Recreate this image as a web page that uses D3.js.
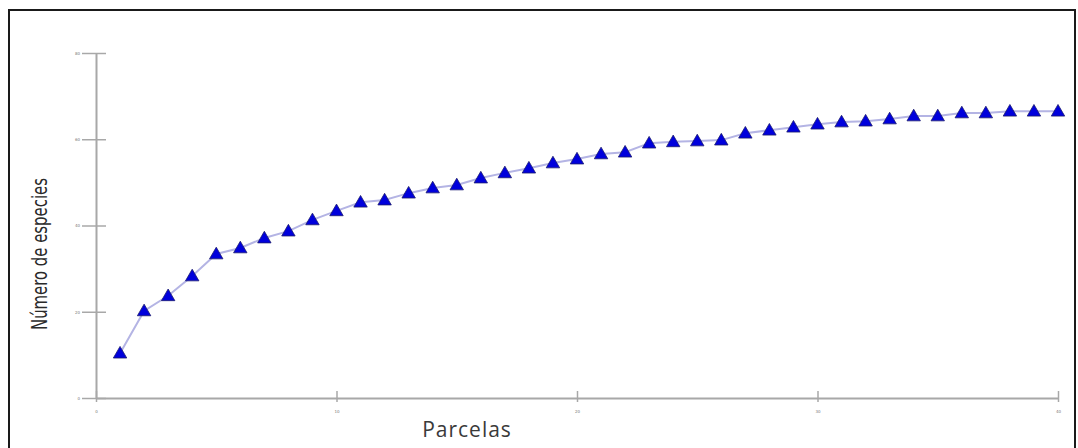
<!DOCTYPE html>
<html>
<head>
<meta charset="utf-8">
<script src="https://cdn.jsdelivr.net/npm/d3@7"></script>
<style>
body { margin: 0; background: #fff; }
</style>
</head>
<body>
<script>
// parcelas 1..40, número acumulado de especies
var parcelas = d3.range(1, 41);
var especies = [10.4, 20.2, 23.7, 28.3, 33.4, 34.8, 37.1, 38.7, 41.3, 43.4,
	45.4, 45.9, 47.5, 48.7, 49.4, 51.0, 52.2, 53.3, 54.5, 55.4,
	56.6, 57.0, 59.1, 59.4, 59.6, 59.8, 61.4, 62.1, 62.8, 63.5,
	64.0, 64.2, 64.7, 65.4, 65.4, 66.1, 66.1, 66.5, 66.5, 66.5];
var xTicks = [0, 10, 20, 30, 40];
var yTicks = [0, 20, 40, 60, 80];

var W = 1078, H = 448;
var svg = d3.select("body")
	.append("svg")
	.attr("width", W)
	.attr("height", H);

// marco exterior
svg.append("rect")
	.attr("x", 9).attr("y", 10)
	.attr("width", 1066).attr("height", 450)
	.attr("fill", "none")
	.attr("stroke", "#1a1a1a")
	.attr("stroke-width", 2);

var x = d3.scaleLinear().domain([0, 40]).range([96, 1058]);
var y = d3.scaleLinear().domain([0, 80]).range([398, 53]);

var gx = svg.append("g")
	.attr("transform", "translate(0,398)")
	.call(d3.axisBottom(x).tickValues(xTicks).tickSize(6).tickSizeOuter(0).tickPadding(6));
gx.selectAll(".tick line").attr("y1", -7).attr("y2", 4);

var gy = svg.append("g")
	.attr("transform", "translate(96,0)")
	.call(d3.axisLeft(y).tickValues(yTicks).tickSize(10).tickSizeOuter(0).tickPadding(6));
gy.selectAll(".tick line").attr("x2", 10).attr("x1", -14);

svg.selectAll(".domain").attr("stroke", "#a8a8a8").attr("stroke-width", 2);
svg.selectAll(".tick line").attr("stroke", "#a8a8a8").attr("stroke-width", 1.5);
svg.selectAll(".tick text")
	.attr("font-size", 4)
	.attr("fill", "#777")
	.attr("font-family", "DejaVu Sans");

var line = d3.line()
	.x(function(d, i) { return x(parcelas[i]); })
	.y(function(d) { return y(d); });

svg.append("path")
	.datum(especies)
	.attr("d", line)
	.attr("fill", "none")
	.attr("stroke", "#b4b4e4")
	.attr("stroke-width", 2);

var tri = d3.symbol().type(d3.symbolTriangle).size(78);
svg.selectAll(".pt")
	.data(especies)
	.enter().append("path")
	.attr("class", "pt")
	.attr("d", tri)
	.attr("transform", function(d, i) { return "translate(" + x(parcelas[i]) + "," + (y(d) + 1) + ")"; })
	.attr("fill", "#0000dc")
	.attr("stroke", "#1a1a6e")
	.attr("stroke-width", 0.8);

// títulos de ejes
svg.append("text")
	.attr("x", 467).attr("y", 437)
	.attr("text-anchor", "middle")
	.attr("font-family", "Open Sans")
	.attr("font-size", 21)
	.attr("letter-spacing", 1)
	.attr("fill", "#3a3a3a")
	.text("Parcelas");

svg.append("text")
	.attr("transform", "translate(47,254)rotate(-90)")
	.attr("text-anchor", "middle")
	.attr("font-family", "'DejaVu Sans Condensed', sans-serif")
	.attr("font-size", 21)
	.attr("textLength", 152)
	.attr("lengthAdjust", "spacingAndGlyphs")
	.attr("fill", "#2a2a2a")
	.text("Número de especies");
</script>
</body>
</html>
